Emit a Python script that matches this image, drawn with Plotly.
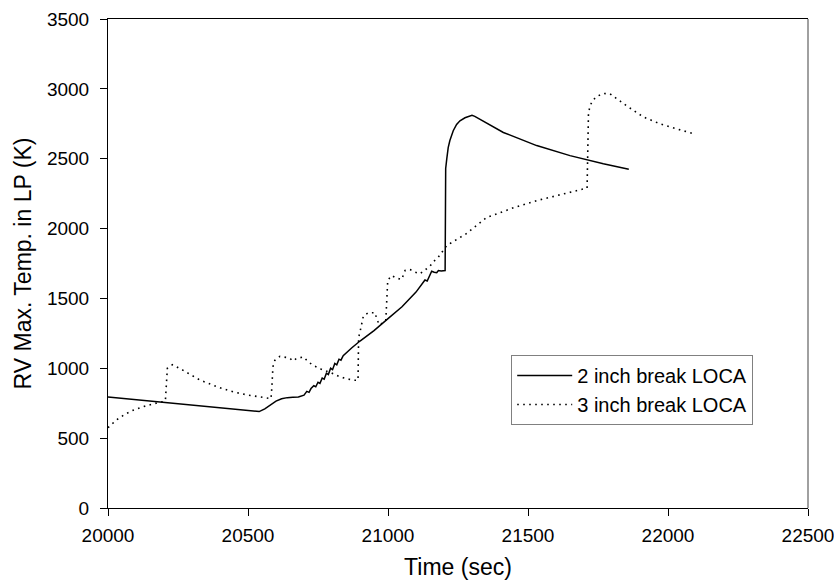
import plotly.graph_objects as go

# 2 inch break LOCA (solid)
t2 = [20000, 20540, 20560, 20580, 20600, 20620, 20640, 20660, 20680, 20700,
      20710, 20718, 20725, 20735, 20742, 20750, 20757, 20765, 20772, 20780,
      20787, 20795, 20802, 20810, 20817, 20825, 20832, 20840, 20850, 20870,
      20900, 20950, 21000, 21050, 21100, 21120, 21132, 21140, 21148, 21156,
      21165, 21174, 21180, 21190, 21204, 21206, 21210, 21215, 21221, 21233,
      21245, 21257, 21275, 21293, 21300, 21310, 21412, 21531, 21650, 21769, 21860]
v2 = [795, 690, 710, 740, 765, 782, 790, 792, 794, 808,
      835, 828, 855, 875, 868, 900, 892, 930, 922, 965,
      955, 1000, 990, 1035, 1025, 1065, 1058, 1090, 1110, 1145,
      1195, 1270, 1355, 1440, 1545, 1600, 1632, 1625, 1660, 1695,
      1688, 1684, 1700, 1697, 1700, 2430, 2500, 2580, 2630, 2700,
      2745, 2771, 2793, 2805, 2810, 2803, 2688, 2594, 2522, 2464, 2425]

# 3 inch break LOCA (dotted)
t3 = [20000, 20030, 20060, 20090, 20120, 20150, 20180, 20200, 20205, 20212,
      20230, 20260, 20300, 20330, 20400, 20450, 20500, 20543, 20582, 20585,
      20589, 20596, 20614, 20635, 20650, 20660, 20674, 20698, 20716, 20733,
      20760, 20798, 20829, 20852, 20876, 20893, 20895, 20900, 20906, 20912,
      20930, 20954, 20960, 20970, 20992, 20999, 21013, 21031, 21049, 21061,
      21079, 21096, 21114, 21132, 21150, 21162, 21177, 21210, 21280, 21352,
      21450, 21531, 21620, 21704, 21711, 21716, 21722, 21730, 21745, 21769,
      21793, 21852, 21911, 21971, 22031, 22090]
v3 = [575, 630, 670, 700, 722, 740, 755, 762, 770, 1000,
      1025, 995, 950, 914, 860, 830, 808, 793, 783, 860,
      1010, 1057, 1086, 1078, 1071, 1052, 1071, 1081, 1045, 1021,
      995, 967, 938, 926, 914, 914, 1220, 1260, 1319, 1374,
      1398, 1398, 1350, 1310, 1340, 1629, 1664, 1645, 1636, 1700,
      1707, 1688, 1676, 1707, 1731, 1764, 1788, 1879, 1964, 2079,
      2150, 2200, 2245, 2286, 2290, 2829, 2879, 2914, 2945, 2967,
      2964, 2879, 2800, 2750, 2714, 2679]

x_ticks = [20000, 20500, 21000, 21500, 22000, 22500]
y_ticks = [0, 500, 1000, 1500, 2000, 2500, 3000, 3500]

font_family = "Arial, Liberation Sans, sans-serif"

fig = go.Figure()
fig.add_trace(go.Scatter(x=t2, y=v2, mode="lines", name="2 inch break LOCA",
                         line=dict(color="black", width=1.5)))
fig.add_trace(go.Scatter(x=t3, y=v3, mode="lines", name="3 inch break LOCA",
                         line=dict(color="black", width=1.6, dash="1.6px,4.4px")))

fig.update_layout(
    width=834, height=586,
    margin=dict(l=108, r=26, t=19, b=78),
    plot_bgcolor="white", paper_bgcolor="white",
    font=dict(family=font_family, color="black", size=19),
    showlegend=True,
    legend=dict(x=0.576, y=0.313, xanchor="left", yanchor="top",
                bordercolor="#808080", borderwidth=1, bgcolor="white",
                font=dict(size=20), itemwidth=55),
    xaxis=dict(range=[20000, 22500], tickvals=x_ticks, ticktext=[str(v) for v in x_ticks],
               showgrid=False, zeroline=False, showline=True, linecolor="black",
               linewidth=1, mirror=True, ticks="outside", ticklen=7, tickcolor="black",
               automargin=False, ticklabelstandoff=3, ticklabeloverflow="allow",
               title=dict(text="Time (sec)", font=dict(size=23), standoff=14),
               tickfont=dict(size=19)),
    yaxis=dict(range=[0, 3500], tickvals=y_ticks, ticktext=[str(v) for v in y_ticks],
               showgrid=False, zeroline=False, showline=True, linecolor="black",
               linewidth=1, ticks="outside", ticklen=7, tickcolor="black",
               automargin=False, ticklabelstandoff=7, ticklabeloverflow="allow",
               title=dict(text="RV Max. Temp. in LP (K)", font=dict(size=23), standoff=8),
               tickfont=dict(size=19)),
    shapes=[dict(type="line", xref="paper", yref="paper", x0=1, x1=1, y0=0, y1=1,
                 line=dict(color="#808080", width=1.5))],
)

fig.write_html("out.html")
